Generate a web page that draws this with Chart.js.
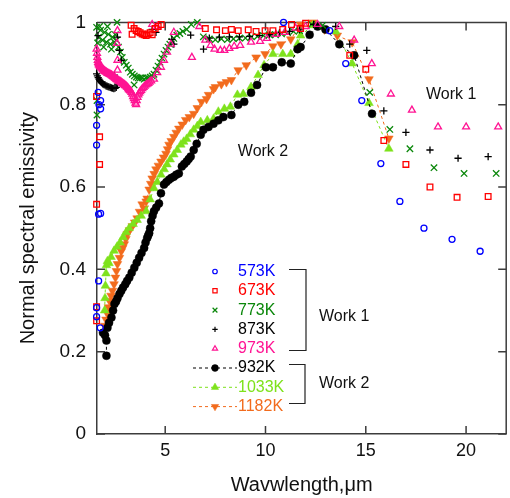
<!DOCTYPE html>
<html>
<head>
<meta charset="utf-8">
<script src="https://cdn.jsdelivr.net/npm/chart.js@4.4.1/dist/chart.umd.min.js"></script>
<style>
  html, body { margin: 0; padding: 0; background: #fff; overflow: hidden; }
  #wrap { width: 512px; height: 498px; }
</style>
</head>
<body>
<div id="wrap"><canvas id="emisChart"></canvas></div>
<script>
// ticks
const xTicks = [5, 10, 15, 20];
const yTicks = [0, 0.2, 0.4, 0.6, 0.8, 1];

// series names and colours
const seriesNames = ['573K', '673K', '773K', '873K', '973K', '932K', '1033K', '1182K'];
const seriesColors = ['#0000ff', '#ff0000', '#0a870a', '#000000', '#ff1493', '#000000', '#7ee21c', '#f26b1d'];

// Work 1 (wavelength um / emissivity)
const wl573 = [1.58, 1.58, 1.68, 1.76, 1.68, 1.78, 1.58, 1.58, 1.78, 1.70, 1.78, 1.66, 10.9, 13.2, 14.0, 14.8, 15.75, 16.7, 17.9, 19.3, 20.7];
const em573 = [0.307, 0.285, 0.372, 0.258, 0.534, 0.536, 0.702, 0.75, 0.79, 0.80, 0.81, 0.83, 1.0, 0.98, 0.90, 0.81, 0.657, 0.565, 0.50, 0.473, 0.444];

const wl673 = [1.58, 1.73, 1.73, 1.58, 1.58, 1.58, 3.30, 3.35, 3.45, 3.55, 3.65, 3.75, 3.85, 3.95, 4.05, 4.15, 4.25, 4.35, 4.5, 4.65, 4.8,
  7.0, 7.56, 8.0, 8.3, 8.64, 9.14, 9.53, 9.98, 10.37, 10.86, 11.3, 11.75, 12.0, 14.2, 15.0, 15.9, 17.0, 18.2, 19.55, 21.1];
const em673 = [0.82, 0.722, 0.655, 0.558, 0.309, 0.275, 0.993, 0.971, 0.985, 0.98, 0.978, 0.975, 0.972, 0.97, 0.968, 0.972, 0.975, 0.97, 0.985, 0.99, 0.995,
  0.985, 0.982, 0.98, 0.983, 0.98, 0.982, 0.978, 0.98, 0.98, 0.983, 0.995, 0.985, 0.998, 0.92, 0.886, 0.713, 0.655, 0.60, 0.575, 0.577];

const wl773 = [1.58, 1.68, 1.78, 1.88, 1.98, 2.07, 2.17, 2.27, 2.37, 2.47, 2.57, 2.67, 2.77, 2.86, 2.96, 3.06, 3.16, 3.26, 3.36, 3.46,
  3.56, 3.65, 3.75, 3.85, 3.95, 4.05, 4.15, 4.25, 4.35, 4.44, 4.54, 4.64, 4.74, 4.84, 4.94, 5.04, 5.14, 5.23, 5.33, 5.43, 5.58, 5.73, 5.88, 6.07,
  1.63, 1.73, 1.93, 2.12, 2.32, 2.52, 1.60, 1.60, 3.45, 2.6, 6.3, 6.6,
  6.9, 7.2, 7.5, 7.8, 8.1, 8.4, 8.7, 9.0, 9.3, 9.6, 9.9, 10.2, 10.5, 10.8, 11.1, 11.4, 11.7, 12.3, 12.85,
  15.2, 16.2, 17.2, 18.4, 19.9, 21.5];
const em773 = [0.988, 0.964, 0.981, 0.957, 0.976, 0.952, 0.971, 0.947, 0.964, 0.952, 0.957, 0.94, 0.928, 0.915, 0.903, 0.896, 0.889, 0.879, 0.874, 0.87,
  0.867, 0.865, 0.865, 0.865, 0.862, 0.865, 0.865, 0.867, 0.87, 0.874, 0.884, 0.894, 0.903, 0.913, 0.923, 0.932, 0.94, 0.947, 0.954, 0.961, 0.969, 0.973, 0.978, 0.983,
  0.95, 0.99, 0.94, 0.99, 0.935, 0.97, 0.81, 0.775, 0.848, 1.0, 0.995, 1.0,
  0.965, 0.96, 0.958, 0.96, 0.958, 0.96, 0.962, 0.962, 0.965, 0.966, 0.968, 0.97, 0.97, 0.972, 0.975, 0.978, 0.98, 0.995, 0.993,
  0.83, 0.74, 0.693, 0.647, 0.633, 0.633];

const wl873 = [1.58, 1.62, 1.66, 1.70, 1.74, 1.78, 1.82, 1.86, 1.90, 1.95, 2.00, 2.05, 2.10, 2.15, 2.20, 2.26, 2.32, 2.38, 2.44, 2.50, 2.56,
  1.65, 2.62, 2.72, 2.81, 2.47, 2.62, 4.35, 4.54, 5.33, 5.43, 6.27, 6.91,
  7.2, 7.7, 8.2, 8.7, 9.2, 9.7, 10.2, 10.7, 11.2, 11.7, 12.4, 13.5, 14.2, 15.05, 15.9, 17.0, 18.2, 19.6, 21.1];
const em873 = [0.875, 0.87, 0.866, 0.862, 0.859, 0.856, 0.854, 0.852, 0.85, 0.849, 0.848, 0.846, 0.845, 0.844, 0.843, 0.842, 0.841, 0.84, 0.839, 0.84, 0.842,
  0.968, 0.964, 0.932, 0.908, 0.872, 0.85, 0.983, 0.976, 0.959, 0.947, 0.969, 0.935,
  0.962, 0.964, 0.965, 0.965, 0.966, 0.968, 0.97, 0.975, 0.978, 0.982, 0.995, 0.99, 0.947, 0.932, 0.785, 0.733, 0.69, 0.67, 0.674];

const wl973 = [1.58, 1.60, 1.62, 1.64, 1.66, 1.68, 1.70, 1.73, 1.76, 1.79, 1.82, 1.85, 1.88, 1.91, 1.94, 1.97, 2.00,
  2.04, 2.08, 2.12, 2.16, 2.20, 2.24, 2.28, 2.32, 2.36, 2.40, 2.44, 2.48, 2.52, 2.56, 2.60, 2.64, 2.68, 2.72, 2.76, 2.80,
  2.84, 2.88, 2.92, 2.96, 3.00, 3.04, 3.08, 3.12, 3.16, 3.20, 3.24, 3.28, 3.32, 3.36, 3.40, 3.44, 3.48, 3.52,
  3.55, 3.58, 3.62, 3.66, 3.70, 3.75, 3.80, 3.86, 3.92, 3.98, 4.04, 4.10, 4.16, 4.22, 4.30,
  4.44, 4.6, 4.79, 4.94, 5.09, 5.28, 5.43, 2.62, 2.6, 2.62, 2.62, 4.35, 4.6, 6.33, 6.7,
  7.0, 7.26, 7.46, 7.75, 7.95, 8.2, 8.44, 8.74, 9.28, 9.73, 10.07, 10.52, 10.96, 11.5, 12.0, 12.6,
  13.68, 14.42, 15.3, 16.25, 17.3, 18.6, 20.0, 21.6];
const em973 = [0.935, 0.925, 0.915, 0.908, 0.903, 0.9, 0.897, 0.895, 0.893, 0.892, 0.891, 0.889, 0.887, 0.885, 0.884, 0.882, 0.881,
  0.880, 0.879, 0.877, 0.876, 0.875, 0.874, 0.873, 0.872, 0.870, 0.869, 0.867, 0.866, 0.864, 0.862, 0.861, 0.86, 0.858, 0.857, 0.856, 0.855,
  0.853, 0.852, 0.85, 0.849, 0.847, 0.846, 0.844, 0.842, 0.839, 0.837, 0.835, 0.833, 0.83, 0.826, 0.82, 0.815, 0.81, 0.804,
  0.80, 0.81, 0.818, 0.824, 0.828, 0.832, 0.835, 0.839, 0.842, 0.845, 0.848, 0.85, 0.852, 0.855, 0.858,
  0.862, 0.878, 0.891, 0.908, 0.928, 0.947, 0.976, 0.98, 0.949, 0.908, 0.884, 0.995, 0.99, 0.915, 0.99,
  0.957, 0.944, 0.935, 0.932, 0.932, 0.937, 0.942, 0.944, 0.952, 0.954, 0.961, 0.971, 0.976, 0.986, 0.99, 0.995,
  0.99, 0.957, 0.90, 0.826, 0.787, 0.746, 0.746, 0.746];

// Work 2
const wl932 = [2.07, 2.07, 1.9, 2.0, 2.12, 2.2, 2.32, 2.4, 2.47, 2.55, 2.62, 2.72, 2.81, 2.9, 3.01, 3.1, 3.21, 3.33, 3.46, 3.58,
  3.70, 3.82, 3.95, 4.02, 4.10, 4.15, 4.20, 4.25, 4.30, 4.37, 4.44, 4.55, 4.69, 4.79, 4.94, 5.06, 5.19, 5.30, 5.43, 5.55,
  5.68, 5.83, 5.95, 6.07, 6.17, 6.27, 6.42, 6.57, 6.77, 6.91, 7.16, 7.41, 7.65, 7.90, 8.30, 8.64, 8.94, 9.28, 9.58,
  10.02, 10.37, 10.81, 11.26, 11.6, 11.75, 12.2, 12.6, 12.99, 13.68, 14.42, 15.31];
const em932 = [0.19, 0.227, 0.246, 0.24, 0.258, 0.27, 0.283, 0.30, 0.316, 0.322, 0.33, 0.34, 0.348, 0.356, 0.364, 0.372, 0.38, 0.392, 0.404, 0.416,
  0.428, 0.44, 0.452, 0.465, 0.476, 0.482, 0.488, 0.5, 0.517, 0.53, 0.541, 0.55, 0.56, 0.585, 0.606, 0.612, 0.618, 0.622, 0.625, 0.63,
  0.633, 0.65, 0.656, 0.662, 0.668, 0.674, 0.69, 0.705, 0.727, 0.739, 0.746, 0.754, 0.762, 0.77, 0.775, 0.8, 0.807, 0.829, 0.848,
  0.891, 0.891, 0.903, 0.9, 0.935, 0.94, 0.97, 0.99, 0.983, 0.947, 0.92, 0.778];

const wl1033 = [1.98, 2.0, 2.02, 2.05, 2.07, 2.12, 2.2, 2.3, 2.45, 2.6, 2.75, 2.9, 3.05, 3.2, 3.4, 3.6, 3.8, 4.05, 4.25, 4.44,
  4.6, 4.79, 4.95, 5.09, 5.25, 5.43, 5.6, 5.78, 5.92, 6.07, 6.25, 6.42, 6.6, 6.77, 7.1, 7.41, 7.65, 7.95, 8.25, 8.6,
  8.89, 9.28, 9.63, 9.93, 10.37, 10.86, 11.26, 11.6, 11.75, 12.35, 13.5, 14.32, 15.16, 16.15];
const em1033 = [0.30, 0.33, 0.36, 0.39, 0.41, 0.42, 0.415, 0.43, 0.445, 0.455, 0.465, 0.478, 0.49, 0.5, 0.51, 0.52, 0.53, 0.541, 0.57, 0.597,
  0.612, 0.63, 0.643, 0.655, 0.667, 0.679, 0.69, 0.703, 0.71, 0.717, 0.728, 0.739, 0.748, 0.758, 0.762, 0.766, 0.783, 0.79, 0.795, 0.824,
  0.826, 0.843, 0.872, 0.896, 0.923, 0.923, 0.923, 0.947, 0.968, 0.993, 0.978, 0.90, 0.804, 0.693];

const wl1182 = [1.98, 2.05, 2.12, 2.17, 2.22, 2.3, 2.37, 2.45, 2.52, 2.57, 2.62, 2.72, 2.81, 2.88, 2.96, 3.04, 3.11, 3.22, 3.36, 3.48,
  3.6, 3.72, 3.85, 3.95, 4.05, 4.1, 4.2, 4.28, 4.35, 4.45, 4.54, 4.66, 4.79, 4.92, 5.04, 5.12, 5.19, 5.3, 5.43, 5.55,
  5.68, 5.85, 6.02, 6.2, 6.42, 6.6, 6.81, 7.06, 7.16, 7.41, 7.5, 7.8, 8.05, 8.3, 8.64, 9.04, 9.53, 9.98, 10.37, 10.77,
  11.26, 11.75, 12.35, 12.94, 13.58, 14.32, 15.16, 16.15];
const em1182 = [0.263, 0.278, 0.292, 0.308, 0.324, 0.336, 0.348, 0.364, 0.38, 0.396, 0.413, 0.428, 0.444, 0.452, 0.461, 0.474, 0.486, 0.495, 0.505, 0.514,
  0.524, 0.54, 0.558, 0.548, 0.565, 0.572, 0.594, 0.608, 0.621, 0.632, 0.643, 0.652, 0.662, 0.672, 0.681, 0.692, 0.703, 0.712, 0.722, 0.732,
  0.742, 0.752, 0.763, 0.77, 0.778, 0.792, 0.807, 0.814, 0.824, 0.838, 0.843, 0.85, 0.855, 0.86, 0.884, 0.896, 0.915, 0.923, 0.942, 0.947,
  0.959, 0.995, 1.0, 0.983, 0.968, 0.952, 0.862, 0.718];

const fontFamily = "'Liberation Sans', Arial, sans-serif";
const axisColor = '#3c3c3c';

// marker styles per series
const markerStyles = [
    { pointStyle: 'circle', radius: 3, filled: false, rotation: 0 },
    { pointStyle: 'rect', radius: 4, filled: false, rotation: 0 },
    { pointStyle: 'crossRot', radius: 4.5, filled: false, rotation: 0 },
    { pointStyle: 'cross', radius: 3.6, filled: false, rotation: 0 },
    { pointStyle: 'triangle', radius: 4, filled: false, rotation: 0 },
    { pointStyle: 'circle', radius: 4, filled: true, rotation: 0 },
    { pointStyle: 'triangle', radius: 5, filled: true, rotation: 0 },
    { pointStyle: 'triangle', radius: 5, filled: true, rotation: 180 }
];
// draw order (lower = on top)
const drawOrder = [1, 2, 5, 4, 3, 6, 7, 8];

function makeSet(i, xs, ys) {
    const st = markerStyles[i];
    const work2 = i >= 5;
    return {
        label: seriesNames[i],
        data: xs.map((x, k) => ({ x: x, y: ys[k] })),
        showLine: work2,
        borderColor: seriesColors[i],
        borderWidth: 1,
        borderDash: [3, 3],
        pointStyle: st.pointStyle,
        pointRadius: st.radius,
        pointRotation: st.rotation,
        pointBorderWidth: st.filled ? 0.5 : 1.3,
        pointBorderColor: seriesColors[i],
        pointBackgroundColor: st.filled ? seriesColors[i] : 'rgba(0,0,0,0)',
        clip: false,
        order: drawOrder[i]
    };
}

const datasets = [
    makeSet(0, wl573, em573),
    makeSet(1, wl673, em673),
    makeSet(2, wl773, em773),
    makeSet(3, wl873, em873),
    makeSet(4, wl973, em973),
    makeSet(5, wl932, em932),
    makeSet(6, wl1033, em1033),
    makeSet(7, wl1182, em1182)
];

// top/right frame and inward tick marks
const framePlugin = {
    id: 'frame',
    beforeDatasetsDraw(chart) {
        const { ctx, chartArea: a, scales: { x, y } } = chart;
        ctx.save();
        ctx.strokeStyle = axisColor;
        ctx.lineWidth = 1.5;
        ctx.beginPath();
        ctx.moveTo(a.left, a.top);
        ctx.lineTo(a.right, a.top);
        ctx.lineTo(a.right, a.bottom);
        xTicks.forEach(v => {
            const px = x.getPixelForValue(v);
            ctx.moveTo(px, a.bottom); ctx.lineTo(px, a.bottom - 8);
            ctx.moveTo(px, a.top); ctx.lineTo(px, a.top + 8);
        });
        yTicks.forEach(v => {
            const py = y.getPixelForValue(v);
            ctx.moveTo(a.left, py); ctx.lineTo(a.left + 8, py);
            ctx.moveTo(a.right, py); ctx.lineTo(a.right - 8, py);
        });
        ctx.stroke();
        ctx.restore();
    }
};

// legend with brackets, and the Work 1 / Work 2 notes
const legendBox = { markerX: 215, textX: 238, firstY: 271.5, rowGap: 19.3 };

const notesPlugin = {
    id: 'notes',
    afterDraw(chart) {
        const { ctx, scales: { x, y } } = chart;
        ctx.save();
        ctx.textBaseline = 'middle';
        ctx.textAlign = 'left';

        // notes on the plot
        ctx.font = '16px ' + fontFamily;
        ctx.fillStyle = '#111';
        ctx.fillText('Work 1', x.getPixelForValue(18.0), y.getPixelForValue(0.825));
        ctx.fillText('Work 2', x.getPixelForValue(8.62), y.getPixelForValue(0.687));

        // legend rows
        seriesNames.forEach((name, i) => {
            const st = markerStyles[i];
            const ry = legendBox.firstY + i * legendBox.rowGap;
            if (i >= 5) {
                ctx.save();
                ctx.strokeStyle = seriesColors[i];
                ctx.lineWidth = 1;
                ctx.setLineDash([3, 3]);
                ctx.beginPath();
                ctx.moveTo(193, ry);
                ctx.lineTo(237, ry);
                ctx.stroke();
                ctx.restore();
            }
            ctx.save();
            ctx.strokeStyle = seriesColors[i];
            ctx.fillStyle = st.filled ? seriesColors[i] : 'rgba(0,0,0,0)';
            ctx.lineWidth = st.filled ? 0.5 : 1.2;
            Chart.helpers.drawPoint(ctx, {
                pointStyle: st.pointStyle,
                radius: st.filled ? st.radius * 0.85 : st.radius * 0.75,
                rotation: st.rotation,
                borderWidth: st.filled ? 0.5 : 1.2
            }, legendBox.markerX, ry);
            ctx.restore();
            ctx.fillStyle = seriesColors[i];
            ctx.font = '16px ' + fontFamily;
            ctx.fillText(name, legendBox.textX, ry);
        });

        // brackets
        ctx.strokeStyle = '#222';
        ctx.lineWidth = 1.2;
        ctx.beginPath();
        ctx.moveTo(289, 269.5); ctx.lineTo(306, 269.5); ctx.lineTo(306, 350.5); ctx.lineTo(289, 350.5);
        ctx.moveTo(289, 364.5); ctx.lineTo(305, 364.5); ctx.lineTo(305, 403.5); ctx.lineTo(289, 403.5);
        ctx.stroke();
        ctx.fillStyle = '#111';
        ctx.font = '16px ' + fontFamily;
        ctx.fillText('Work 1', 319, 317);
        ctx.fillText('Work 2', 319, 384);
        ctx.restore();
    }
};

const ctx = document.getElementById('emisChart').getContext('2d');

const emisChart = new Chart(ctx, {
    type: 'scatter',
    data: { datasets: datasets },
    options: {
        responsive: true,
        maintainAspectRatio: false,
        animation: false,
        events: [],
        layout: { padding: { top: 20, right: 1, left: 0, bottom: 0 } },
        plugins: {
            legend: { display: false },
            tooltip: { enabled: false }
        },
        scales: {
            x: {
                type: 'linear',
                min: 1.6,
                max: 22,
                grid: { display: false, drawTicks: false },
                border: { display: true, color: axisColor, width: 1.5 },
                afterBuildTicks: (scale) => { scale.ticks = xTicks.map(v => ({ value: v })); },
                afterFit: (scale) => { scale.height = 64; },
                ticks: { padding: 6, color: '#111', font: { family: fontFamily, size: 18 } },
                title: {
                    display: true,
                    text: 'Wavwlength,\u03bcm',
                    color: '#111',
                    font: { family: fontFamily, size: 20 },
                    padding: { top: 0, bottom: 1 }
                }
            },
            y: {
                type: 'linear',
                min: 0,
                max: 1,
                grid: { display: false, drawTicks: false },
                border: { display: true, color: axisColor, width: 1.5 },
                afterBuildTicks: (scale) => { scale.ticks = yTicks.map(v => ({ value: v })); },
                afterFit: (scale) => { scale.width = 97; },
                ticks: {
                    padding: 11,
                    color: '#111',
                    font: { family: fontFamily, size: 19 },
                    callback: (v) => String(Number(v.toFixed(1)))
                },
                title: {
                    display: true,
                    text: 'Normal spectral emissivity',
                    color: '#111',
                    font: { family: fontFamily, size: 20 },
                    padding: { top: 16, bottom: 0 }
                }
            }
        }
    },
    plugins: [framePlugin, notesPlugin]
});
</script>
</body>
</html>
